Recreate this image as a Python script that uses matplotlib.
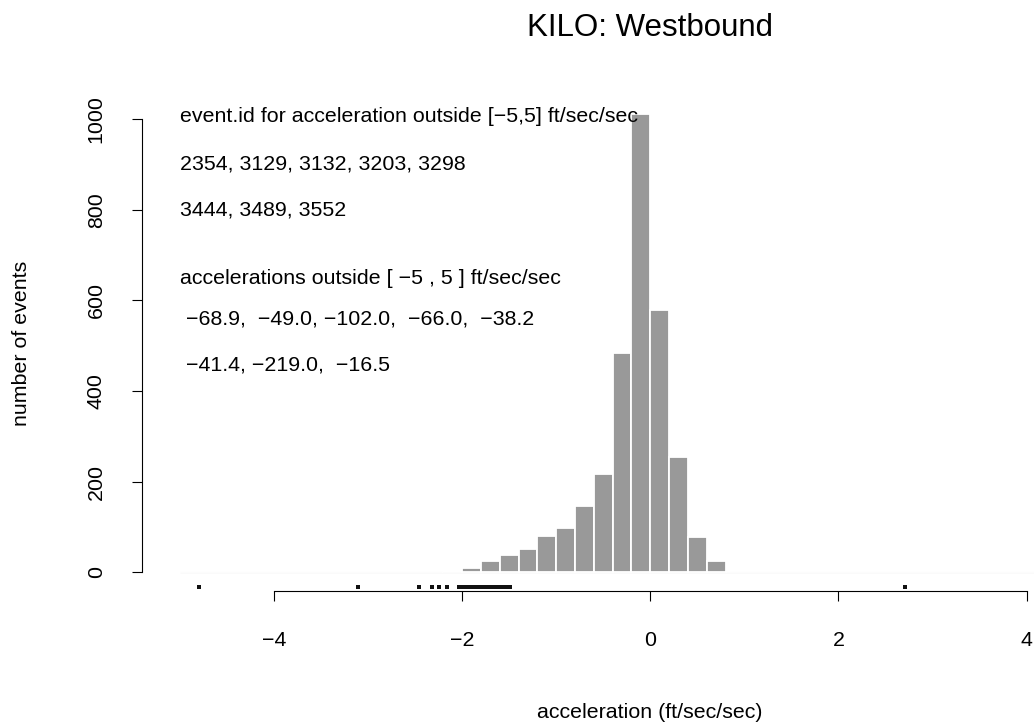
import matplotlib
matplotlib.use('Agg')
import matplotlib.pyplot as plt
import numpy as np

plt.rcParams['font.family'] = ['Liberation Sans', 'DejaVu Sans']

# histogram, breaks every 0.2 from -5 to 5
BIN_LEFT = [-5.0, -4.8, -4.6, -4.4, -4.2, -4.0, -3.8, -3.6, -3.4, -3.2,
            -3.0, -2.8, -2.6, -2.4, -2.2, -2.0, -1.8, -1.6, -1.4, -1.2,
            -1.0, -0.8, -0.6, -0.4, -0.2, 0.0, 0.2, 0.4, 0.6, 0.8,
            1.0, 1.2, 1.4, 1.6, 1.8, 2.0, 2.2, 2.4, 2.6, 2.8,
            3.0, 3.2, 3.4, 3.6, 3.8, 4.0, 4.2, 4.4, 4.6, 4.8]
COUNTS = [0, 0, 0, 0, 0, 0, 0, 0, 0, 0,
          0, 0, 0, 1, 2, 9, 24, 38, 52, 80,
          98, 146, 216, 485, 1011, 580, 255, 78, 26, 1,
          0, 0, 0, 0, 0, 0, 0, 0, 0, 0,
          0, 0, 0, 0, 0, 0, 0, 0, 0, 0]
BIN_WIDTH = 0.2

# rug marks under the histogram
RUG = [-4.80, -3.11, -2.46, -2.32, -2.25, -2.16,
       -2.03, -2.01, -1.99, -1.97, -1.95, -1.93, -1.91, -1.89, -1.87, -1.85,
       -1.83, -1.81, -1.79, -1.77, -1.75, -1.73, -1.71, -1.69, -1.67, -1.65,
       -1.63, -1.61, -1.59, -1.57, -1.55, -1.53, -1.51, -1.49,
       2.71]

X_TICKS = [-4, -2, 0, 2, 4]
Y_TICKS = [0, 200, 400, 600, 800, 1000]

NOTE_LINES = [
    'event.id for acceleration outside [\u22125,5] ft/sec/sec',
    '2354, 3129, 3132, 3203, 3298',
    '3444, 3489, 3552',
    'accelerations outside [ \u22125 , 5 ] ft/sec/sec',
    ' \u221268.9,  \u221249.0, \u2212102.0,  \u221266.0,  \u221238.2',
    ' \u221241.4, \u2212219.0,  \u221216.5',
]
NOTE_Y = [994, 890, 788, 636, 548, 446]

W, H = 1034, 725
FS = 15.4
BAR_COLOR = '#999999'

fig = plt.figure(figsize=(W / 100, H / 100), dpi=100)
# plot region in pixels, the right edge runs past the figure like the original
left, right, top, bottom = 142.2, 1158.4, 96.0, 590.6
ax = fig.add_axes([left / W, 1 - bottom / H, (right - left) / W, (bottom - top) / H])
ax.set_xlim(-5.4, 5.4)
ax.set_ylim(-40.4, 1051.4)
ax.patch.set_visible(False)

# zero-count bins show up as a faint line
ax.hlines(0, -5, 5, color='#e8e8e8', lw=1, zorder=1)
ax.bar(BIN_LEFT, COUNTS, width=BIN_WIDTH, align='edge', color=BAR_COLOR,
       edgecolor='white', linewidth=1.3, zorder=2)

ax.plot(RUG, [-32.5] * len(RUG), 's', ms=2.2, color='#111111', mew=0, clip_on=False)

for txt, yy in zip(NOTE_LINES, NOTE_Y):
    ax.text(-5.0, yy, txt, fontsize=FS, ha='left', va='baseline', zorder=3)

for side in ['top', 'right']:
    ax.spines[side].set_visible(False)
ax.spines['bottom'].set_bounds(-4, 4)
ax.spines['left'].set_bounds(0, 1000)
for side in ['bottom', 'left']:
    ax.spines[side].set_linewidth(0.8)
ax.set_xticks(X_TICKS)
ax.set_yticks(Y_TICKS)
ax.tick_params(axis='x', direction='out', length=7.2, width=0.8, pad=22, labelsize=FS)
ax.tick_params(axis='y', direction='out', length=7.2, width=0.8, pad=19, labelsize=FS,
               labelrotation=90)
for lab in ax.get_yticklabels():
    lab.set_va('center')

fig.text(0.629, 1 - 36 / H, 'KILO: Westbound', fontsize=22.5, ha='center', va='baseline')
fig.text(650 / W, 1 - 717.5 / H, 'acceleration (ft/sec/sec)', fontsize=FS,
         ha='center', va='baseline')
fig.text(22 / W, 1 - 343 / H, 'number of events', fontsize=FS, rotation=90,
         ha='center', va='center')

fig.savefig('out.png', dpi=100)
